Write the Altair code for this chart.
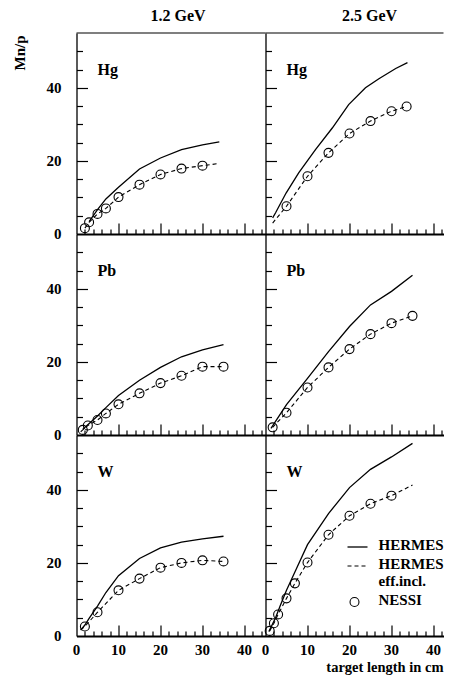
import altair as alt
import pandas as pd

FONT = "Liberation Serif"

# ---------------- axis tick positions ----------------
x_labels = [0, 10, 20, 30, 40]
y_labels = [0, 20, 40]
x_major_ticks = [10, 20, 30, 40]
x_minor_ticks = [2, 4, 6, 8, 12, 14, 16, 18, 22, 24, 26, 28, 32, 34, 36, 38, 42, 44]
y_major_ticks = [20, 40]
y_minor_ticks = [5, 10, 15, 25, 30, 35, 45, 50]

col_titles = ["1.2 GeV", "2.5 GeV"]
elements = ["Hg", "Pb", "W"]
x_title = "target length in cm"
y_title = "Mn/p"

# ---------------- data ----------------
# Hg, 1.2 GeV
hg12_nessi_x = [2, 3, 5, 7, 10, 15, 20, 25, 30]
hg12_nessi_y = [1.6, 3.2, 5.5, 7.0, 10.1, 13.5, 16.3, 17.9, 18.7]
hg12_eff_x = [2, 3, 5, 7, 10, 15, 20, 25, 30, 34]
hg12_eff_y = [1.6, 3.2, 5.5, 7.0, 10.1, 13.5, 16.3, 17.9, 18.7, 19.3]
hg12_hermes_x = [3, 5, 7, 10, 15, 20, 25, 30, 34]
hg12_hermes_y = [3.4, 6.7, 9.6, 12.8, 17.8, 20.8, 23.1, 24.4, 25.2]

# Hg, 2.5 GeV
hg25_nessi_x = [5, 10, 15, 20, 25, 30, 33.6]
hg25_nessi_y = [7.6, 15.8, 22.2, 27.5, 30.9, 33.6, 34.9]
hg25_eff_x = [1.7, 5, 10, 15, 20, 25, 30, 33.6]
hg25_eff_y = [3.0, 7.6, 15.8, 22.2, 27.5, 30.9, 33.6, 34.9]
hg25_hermes_x = [1.7, 2.4, 4.9, 7.9, 11.9, 15.9, 19.8, 23.8, 27, 31, 33.8]
hg25_hermes_y = [4.4, 5.8, 11.2, 16.7, 23.1, 29.0, 35.4, 40.0, 42.5, 45.3, 46.9]

# Pb, 1.2 GeV
pb12_nessi_x = [1.5, 2.7, 5, 7, 10, 15, 20, 25, 30, 35]
pb12_nessi_y = [1.4, 2.6, 4.1, 5.9, 8.4, 11.4, 14.2, 16.2, 18.7, 18.7]
pb12_eff_x = [1, 1.5, 2.7, 5, 7, 10, 15, 20, 25, 30, 35]
pb12_eff_y = [0.9, 1.4, 2.6, 4.1, 5.9, 8.4, 11.4, 14.2, 16.2, 18.7, 18.7]
pb12_hermes_x = [1.5, 5, 7, 10, 15, 20, 25, 30, 35]
pb12_hermes_y = [1.6, 5.2, 7.5, 10.8, 15.0, 18.5, 21.4, 23.3, 24.7]

# Pb, 2.5 GeV
pb25_nessi_x = [1.7, 5, 10, 15, 20, 25, 30, 35]
pb25_nessi_y = [2.1, 6.1, 13.0, 18.5, 23.5, 27.6, 30.6, 32.6]
pb25_eff_x = [1.7, 5, 10, 15, 20, 25, 30, 35]
pb25_eff_y = [2.1, 6.1, 13.0, 18.5, 23.5, 27.6, 30.6, 32.6]
pb25_hermes_x = [1.3, 5, 10, 15, 20, 25, 30, 35]
pb25_hermes_y = [1.8, 8.3, 15.5, 22.8, 29.7, 35.6, 39.3, 43.7]

# W, 1.2 GeV
w12_nessi_x = [2, 5, 10, 15, 20, 25, 30, 35]
w12_nessi_y = [2.6, 6.5, 12.5, 15.7, 18.7, 20.0, 20.7, 20.4]
w12_eff_x = [1, 2, 5, 10, 15, 20, 25, 30, 35]
w12_eff_y = [1.7, 2.6, 6.5, 12.5, 15.7, 18.7, 20.0, 20.7, 20.4]
w12_hermes_x = [1, 2, 3, 5, 7, 10, 15, 20, 25, 30, 35]
w12_hermes_y = [1.6, 3.0, 4.8, 8.2, 11.9, 16.5, 21.2, 24.1, 25.7, 26.6, 27.3]

# W, 2.5 GeV
w25_nessi_x = [1, 2, 3, 5, 7, 10, 15, 20, 25, 30]
w25_nessi_y = [1.4, 3.5, 5.9, 10.3, 14.4, 20.1, 27.7, 32.9, 36.2, 38.4]
w25_eff_x = [1, 2, 3, 5, 7, 10, 15, 20, 25, 30, 35]
w25_eff_y = [1.4, 3.5, 5.9, 10.3, 14.4, 20.1, 27.7, 32.9, 36.2, 38.4, 41.3]
w25_hermes_x = [0.8, 2.4, 3.5, 5, 7, 10, 15, 20, 25, 30, 35]
w25_hermes_y = [1.2, 5.0, 8.3, 12.5, 17.5, 25.0, 33.5, 40.6, 45.6, 49.0, 52.7]

series = {
    ("Hg", 0): (hg12_nessi_x, hg12_nessi_y, hg12_eff_x, hg12_eff_y, hg12_hermes_x, hg12_hermes_y),
    ("Hg", 1): (hg25_nessi_x, hg25_nessi_y, hg25_eff_x, hg25_eff_y, hg25_hermes_x, hg25_hermes_y),
    ("Pb", 0): (pb12_nessi_x, pb12_nessi_y, pb12_eff_x, pb12_eff_y, pb12_hermes_x, pb12_hermes_y),
    ("Pb", 1): (pb25_nessi_x, pb25_nessi_y, pb25_eff_x, pb25_eff_y, pb25_hermes_x, pb25_hermes_y),
    ("W", 0): (w12_nessi_x, w12_nessi_y, w12_eff_x, w12_eff_y, w12_hermes_x, w12_hermes_y),
    ("W", 1): (w25_nessi_x, w25_nessi_y, w25_eff_x, w25_eff_y, w25_hermes_x, w25_hermes_y),
}

PX_X = 4.2                  # pixels per cm
YMAX = 55
WIDTHS = [189, 178]         # right column is cut at the page edge, as in the original
H = 201
PX_Y = H / YMAX
TXT = dict(font=FONT, fontWeight="bold", color="black")


def make_panel(elem, row, col):
    nx, ny, ex, ey, hx, hy = series[(elem, col)]
    W = WIDTHS[col]
    xmax = W / PX_X
    xs = alt.Scale(domain=[0, xmax], nice=False, zero=False)
    ys = alt.Scale(domain=[0, YMAX], nice=False, zero=False)

    xticks = sorted([t for t in x_major_ticks + x_minor_ticks if t <= xmax])
    yticks = sorted(y_major_ticks + y_minor_ticks)

    # axes placed on the far side and shifted onto the near edge, so ticks point inwards
    xax = alt.Axis(orient="top", offset=-H, values=xticks, labels=False, title=None, grid=False,
                   domain=True, domainColor="black", domainWidth=2,
                   ticks=True, tickSize=11, tickColor="black", tickWidth=1.2,
                   tickDash={"condition": {"test": "datum.value % 10 !== 0", "value": [5, 100]},
                             "value": [20, 0]})
    yax = alt.Axis(orient="right", offset=-W, values=yticks, labels=False, title=None, grid=False,
                   domain=True, domainColor="black", domainWidth=1.3,
                   ticks=True, tickSize=11, tickColor="black", tickWidth=1.2,
                   tickDash={"condition": {"test": "datum.value % 20 !== 0", "value": [6, 100]},
                             "value": [20, 0]})

    x_enc = alt.X("x:Q", scale=xs, axis=xax)
    y_enc = alt.Y("y:Q", scale=ys, axis=yax)

    def text_layer(xv, yv, txt, size, **kw):
        return (alt.Chart(pd.DataFrame({"x": xv, "y": yv, "t": txt}))
                .mark_text(fontSize=size, **TXT, **kw)
                .encode(x=x_enc, y=y_enc, text="t:N"))

    layers = [
        alt.Chart(pd.DataFrame({"x": hx, "y": hy})).mark_line(color="black", strokeWidth=1.3)
        .encode(x=x_enc, y=y_enc),
        alt.Chart(pd.DataFrame({"x": ex, "y": ey})).mark_line(color="black", strokeWidth=1.1, strokeDash=[4, 3])
        .encode(x=x_enc, y=y_enc),
        alt.Chart(pd.DataFrame({"x": nx, "y": ny})).mark_point(shape="circle", size=80, color="black",
                                                               filled=False, strokeWidth=1.1, opacity=1)
        .encode(x=x_enc, y=y_enc),
        text_layer([5], [43.5], [elem], 16, align="left", baseline="alphabetic"),
    ]

    if col == 0:   # y tick labels, right-aligned 15 px left of the frame
        layers.append(text_layer([-15 / PX_X] * len(y_labels), y_labels,
                                 [str(v) for v in y_labels], 15, align="right", baseline="middle"))
    if row == 2:   # x tick labels below the frame
        layers.append(text_layer(x_labels, [-7 / PX_Y] * len(x_labels),
                                 [str(v) for v in x_labels], 15, align="center", baseline="top"))
    if row == 2 and col == 1:
        layers.append(text_layer([xmax], [-36 / PX_Y], [x_title], 14.5,
                                 align="right", baseline="alphabetic"))
    if row == 0 and col == 0:
        layers.append(text_layer([-57 / PX_X], [YMAX - 20 / PX_Y], [y_title], 15,
                                 align="center", baseline="middle", angle=270))

    one = pd.DataFrame({"k": [0]})
    if row == 0:
        layers.append(
            alt.Chart(one).mark_rule(color="black", strokeWidth=1.2)
            .encode(x=alt.value(0), x2=alt.value(W), y=alt.value(0), y2=alt.value(0))
        )
        layers.append(
            alt.Chart(one).mark_text(align="center", baseline="alphabetic", fontSize=16, **TXT)
            .encode(x=alt.value(101.5 if col == 0 else 104), y=alt.value(-12),
                    text=alt.value(col_titles[col]))
        )

    if row == 2 and col == 1:
        layers += [
            alt.Chart(one).mark_rule(color="black", strokeWidth=1.3)
            .encode(x=alt.value(82), x2=alt.value(102), y=alt.value(112), y2=alt.value(112)),
            alt.Chart(one).mark_rule(color="black", strokeWidth=1.1, strokeDash=[4, 3])
            .encode(x=alt.value(82), x2=alt.value(102), y=alt.value(131), y2=alt.value(131)),
            alt.Chart(one).mark_point(shape="circle", size=80, color="black", filled=False,
                                      strokeWidth=1.1, opacity=1)
            .encode(x=alt.value(89), y=alt.value(167)),
        ]
        for txt, yy in [("HERMES", 115), ("HERMES", 134), ("eff.incl.", 151), ("NESSI", 170)]:
            layers.append(
                alt.Chart(one).mark_text(align="left", baseline="alphabetic", fontSize=15, **TXT)
                .encode(x=alt.value(113), y=alt.value(yy), text=alt.value(txt))
            )

    return alt.layer(*layers).properties(width=W, height=H)


panels = []
for r, elem in enumerate(elements):
    for c in range(2):
        panels.append(make_panel(elem, r, c))

chart = (
    alt.concat(*panels, columns=2, spacing=0, bounds="flush")
    .properties(padding={"left": 4.5, "top": 0, "right": 0, "bottom": 0})
    .configure_view(strokeWidth=0)
)

chart.save("out.html", embed_options={"renderer": "svg", "actions": False})
